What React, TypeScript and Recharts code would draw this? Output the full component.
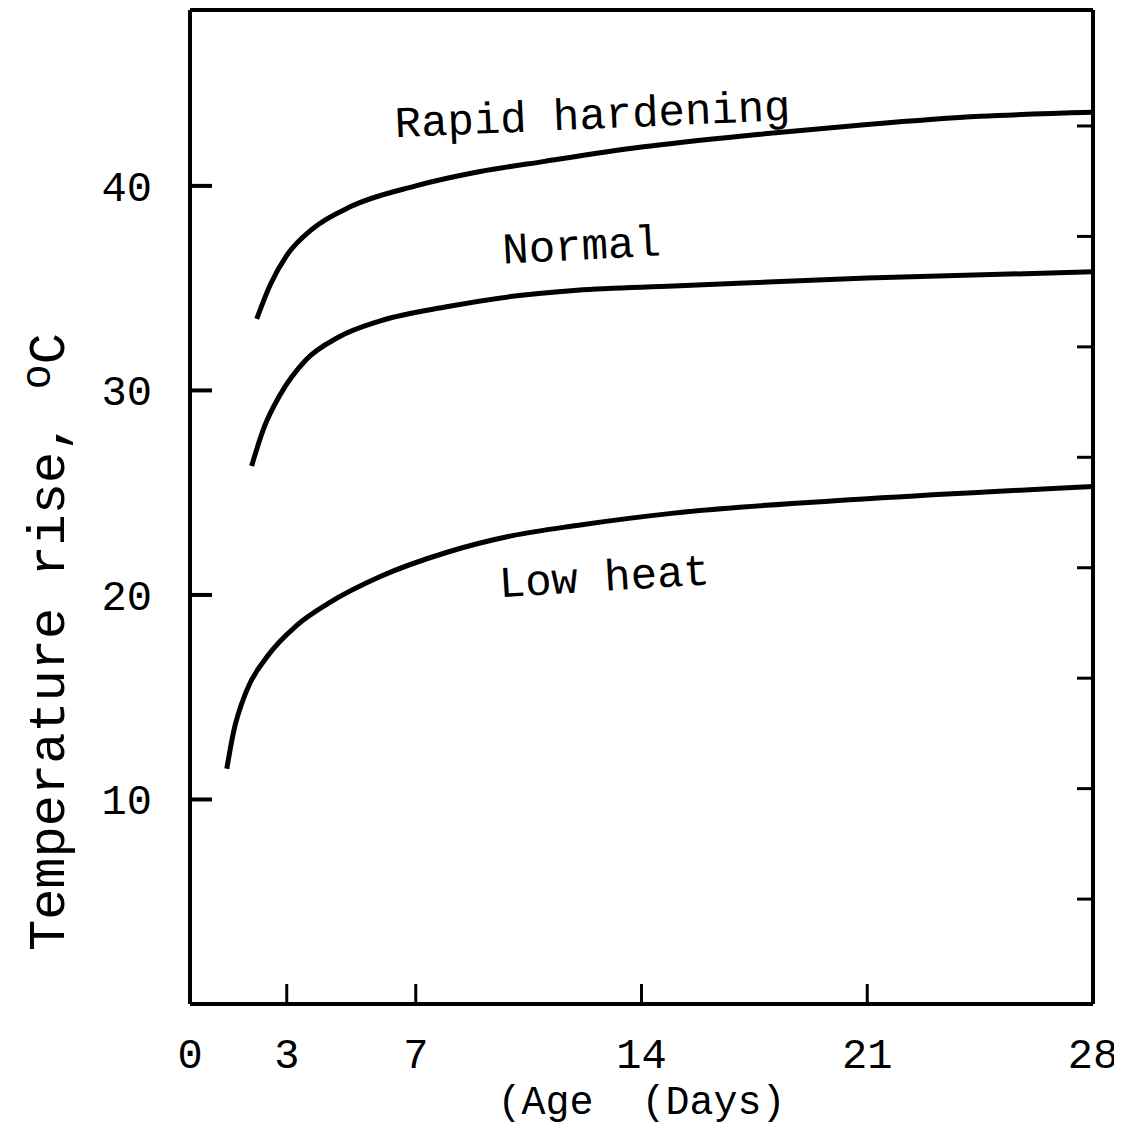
import React from "react";
import { LineChart, Line, XAxis, YAxis, ReferenceDot } from "recharts";

const FONT = '"Liberation Mono", "DejaVu Sans Mono", monospace';

// age in days / temperature rise in °C
const rapidDays = [2.07, 2.5, 3, 3.8, 5, 7, 9, 11, 14, 17.5, 21, 24.5, 28];
const rapidTemp = [33.5, 35.2, 36.6, 37.9, 39.0, 40.0, 40.7, 41.2, 41.9, 42.5, 43.0, 43.4, 43.6];

const normalDays = [1.91, 2.3, 2.8, 3.6, 4.6, 5.9, 8, 10, 12, 15, 21, 28];
const normalTemp = [26.3, 28.2, 29.8, 31.5, 32.6, 33.4, 34.1, 34.6, 34.9, 35.1, 35.5, 35.8];

const lowDays = [1.14, 1.35, 1.75, 2.4, 3.3, 4.3, 5.9, 8, 10, 12, 15, 21, 28];
const lowTemp = [11.5, 13.3, 15.3, 17.0, 18.5, 19.6, 20.9, 22.1, 22.9, 23.4, 24.0, 24.7, 25.3];

const xTicks = [0, 3, 7, 14, 21, 28];
const xMarks = [3, 7, 14, 21];
const yTicks = [10, 20, 30, 40];
const fTicks = [10, 20, 30, 40, 50, 60, 70, 80]; // right-hand scale, no labels

const curveNames = ["Rapid hardening", "Normal", "Low heat"];
const nameDays = [12.5, 12.16, 12.87];
const nameTemps = [42.8, 36.4, 20.2];
const nameAngles = [-2.5, -3, -3.5];

const toPoints = (days: number[], temps: number[]) =>
  days.map((day, i) => ({ day, temp: temps[i] }));

const rapid = toPoints(rapidDays, rapidTemp);
const normal = toPoints(normalDays, normalTemp);
const low = toPoints(lowDays, lowTemp);

const BottomTick = ({ x, y, payload }: any) => (
  <g>
    {xMarks.includes(payload.value) && (
      <line x1={x} y1={y} x2={x} y2={y - 20} stroke="#000" strokeWidth={3} />
    )}
    <text x={x} y={y + 64} textAnchor="middle" fontFamily={FONT} fontSize={42} fill="#000">
      {payload.value}
    </text>
  </g>
);

const TopTick = ({ x, y }: any) => (
  <line x1={x} y1={y} x2={x} y2={y + 12} stroke="#000" strokeWidth={3} />
);

const LeftTick = ({ x, y, payload }: any) => (
  <g>
    <line x1={x} y1={y} x2={x + 22} y2={y} stroke="#000" strokeWidth={4} />
    <text x={x - 38} y={y} dy="0.35em" textAnchor="end" fontFamily={FONT} fontSize={42} fill="#000">
      {payload.value}
    </text>
  </g>
);

const RightTick = ({ x, y }: any) => (
  <line x1={x} y1={y} x2={x - 16} y2={y} stroke="#000" strokeWidth={3} />
);

const XLabel = ({ viewBox }: any) => (
  <text
    x={viewBox.x + viewBox.width / 2}
    y={viewBox.y + 110}
    textAnchor="middle"
    fontFamily={FONT}
    fontSize={40}
    fill="#000"
    style={{ whiteSpace: "pre" }}
  >
    (Age  (Days)
  </text>
);

const YLabel = () => {
  const cx = 56;
  const cy = 634;
  return (
    <text
      x={cx}
      y={cy}
      transform={`rotate(-90, ${cx}, ${cy})`}
      textAnchor="middle"
      fontFamily={FONT}
      fontSize={52}
      fill="#000"
      style={{ whiteSpace: "pre" }}
    >
      {"Temperature rise, "}
      <tspan dy={-14} fontSize={42}>o</tspan>
      <tspan dy={14}>C</tspan>
    </text>
  );
};

const curveName = (i: number) => (props: any) => (
  <text
    x={props.cx}
    y={props.cy}
    transform={`rotate(${nameAngles[i]}, ${props.cx}, ${props.cy})`}
    textAnchor="middle"
    fontFamily={FONT}
    fontSize={44}
    fill="#000"
  >
    {curveNames[i]}
  </text>
);

export default function App() {
  return (
    <div style={{ width: 1114, height: 1122, overflow: "hidden" }}>
      <LineChart
        width={1114}
        height={1122}
        margin={{ top: 0, right: 0, left: 0, bottom: 0 }}
      >
        <XAxis
          xAxisId="bottom"
          dataKey="day"
          type="number"
          domain={[0, 28]}
          ticks={xTicks}
          interval={0}
          height={126}
          tickSize={0}
          tickMargin={0}
          tickLine={false}
          axisLine={{ stroke: "#000", strokeWidth: 4 }}
          tick={<BottomTick />}
          label={<XLabel />}
        />
        <XAxis
          xAxisId="top"
          orientation="top"
          dataKey="day"
          type="number"
          domain={[0, 28]}
          ticks={xMarks}
          interval={0}
          height={2}
          tickSize={0}
          tickMargin={0}
          tickLine={false}
          axisLine={{ stroke: "#000", strokeWidth: 4 }}
          tick={<TopTick />}
        />
        <YAxis
          yAxisId="c"
          dataKey="temp"
          type="number"
          domain={[0, 48.6]}
          ticks={yTicks}
          interval={0}
          width={182}
          tickSize={0}
          tickMargin={0}
          tickLine={false}
          axisLine={{ stroke: "#000", strokeWidth: 4 }}
          tick={<LeftTick />}
          label={<YLabel />}
        />
        <YAxis
          yAxisId="f"
          orientation="right"
          type="number"
          domain={[0.5, 90.5]}
          ticks={fTicks}
          interval={0}
          width={29}
          tickSize={0}
          tickMargin={0}
          tickLine={false}
          allowDataOverflow
          axisLine={{ stroke: "#000", strokeWidth: 4 }}
          tick={<RightTick />}
        />
        <Line
          xAxisId="bottom"
          yAxisId="c"
          data={rapid}
          dataKey="temp"
          type="monotone"
          stroke="#000"
          strokeWidth={5}
          dot={false}
          isAnimationActive={false}
        />
        <Line
          xAxisId="bottom"
          yAxisId="c"
          data={normal}
          dataKey="temp"
          type="monotone"
          stroke="#000"
          strokeWidth={5}
          dot={false}
          isAnimationActive={false}
        />
        <Line
          xAxisId="bottom"
          yAxisId="c"
          data={low}
          dataKey="temp"
          type="monotone"
          stroke="#000"
          strokeWidth={5}
          dot={false}
          isAnimationActive={false}
        />
        {curveNames.map((name, i) => (
          <ReferenceDot
            key={name}
            xAxisId="bottom"
            yAxisId="c"
            x={nameDays[i]}
            y={nameTemps[i]}
            r={0}
            shape={curveName(i)}
          />
        ))}
      </LineChart>
    </div>
  );
}
